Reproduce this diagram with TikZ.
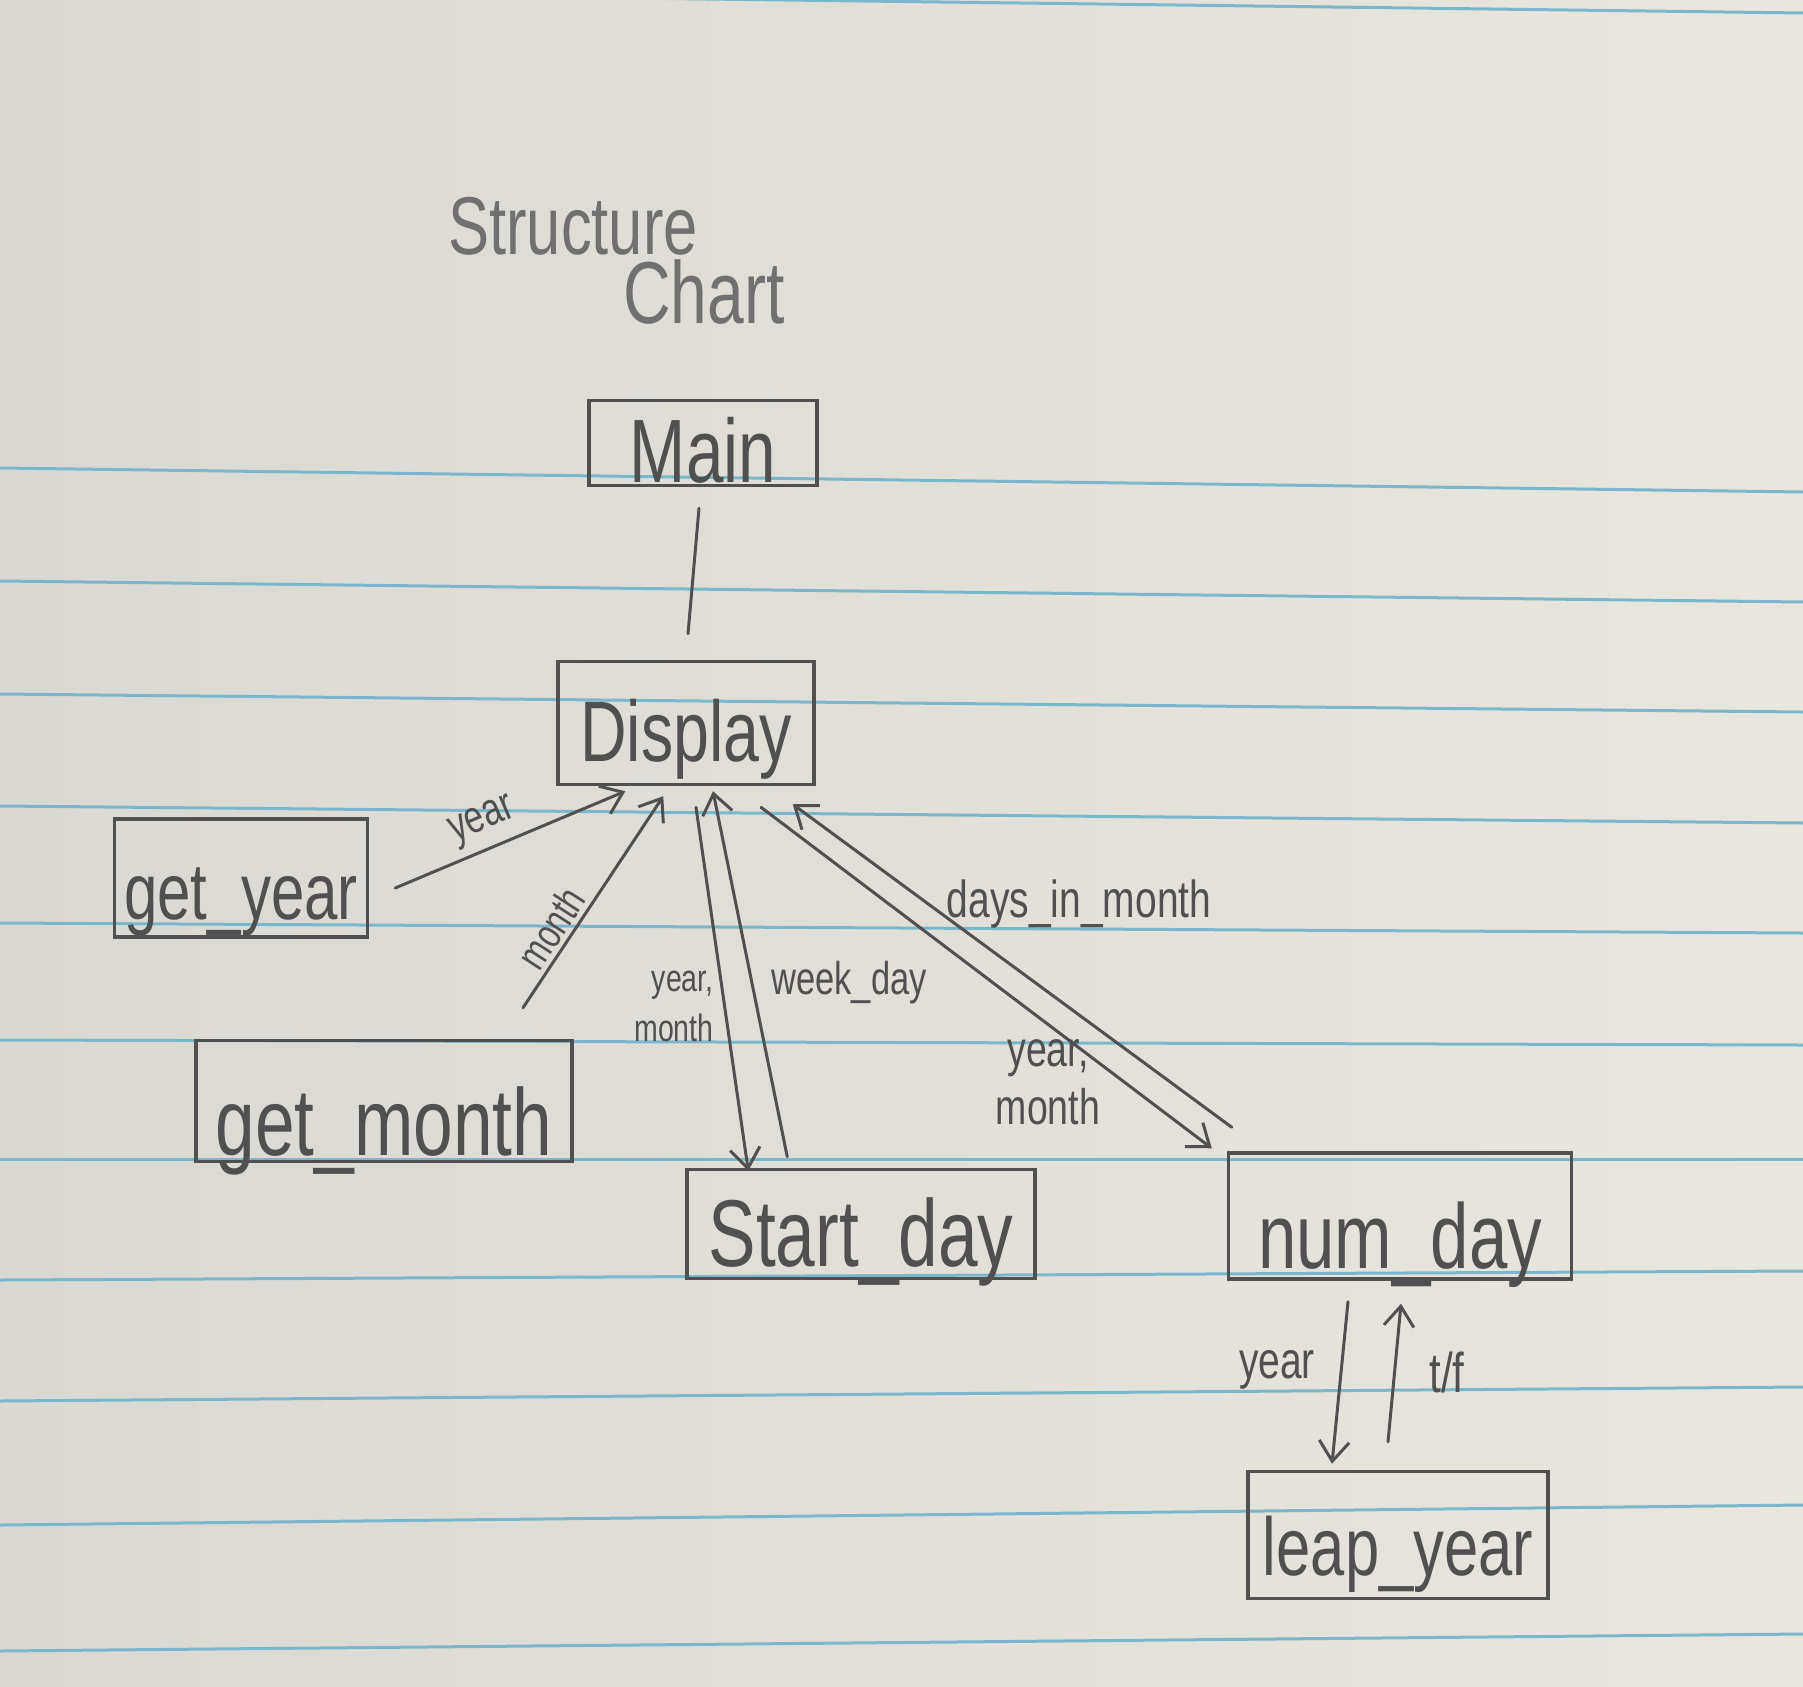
\documentclass[tikz,border=0pt]{standalone}
\usepackage{fontspec}
\setmainfont{Liberation Sans}
\newfontfamily\hand[FakeStretch=0.75]{Liberation Sans}
\usetikzlibrary{arrows.meta,calc}
\definecolor{paperL}{RGB}{218,216,210}
\definecolor{paperR}{RGB}{233,230,223}
\definecolor{ruleblue}{RGB}{120,184,200}
\definecolor{pencil}{RGB}{80,80,80}
\definecolor{pencilL}{RGB}{112,112,112}
\tikzset{
  box/.style={draw=pencil, line width=3.5pt, rectangle, inner sep=0pt, text=pencil,
    text depth=0pt},
  boxfont/.style={font=\hand\fontsize{#1}{#1}\selectfont},
  flow/.style={draw=pencil, line width=3pt, line cap=round,
    -{Straight Barb[length=20pt,width=30pt,line width=3pt]}},
  plain/.style={draw=pencil, line width=3pt, line cap=round},
  lab/.style={text=pencil, inner sep=0pt, align=center},
  labfont/.style 2 args={font=\hand\fontsize{#1}{#2}\selectfont},
  ruling/.style={draw=ruleblue, line width=3pt},
}
\begin{document}
\begin{tikzpicture}[x=1pt,y=-1pt]
% paper
\useasboundingbox (0,0) rectangle (1803,1686);
\shade[left color=paperL, right color=paperR] (0,0) rectangle (1803,1686);
% ruled lines
\foreach \a/\b in {-10/13,468/492,581/602,694/712,806/823,923/933,1040/1045,1159/1159,1280/1271,1401/1387,1525/1505,1651/1634}
  \draw[ruling] (0,\a) -- (1803,\b);

% title
\node[lab, text=pencilL, labfont={82}{86}] (t1) at (573,226) {Structure};
\node[lab, text=pencilL, labfont={88}{92}] (t2) at (704,292) {Chart};

% boxes
\node[box, boxfont=90, minimum width=228, minimum height=85, text height=79pt] (main) at (703,443) {Main};
\node[box, boxfont=86, minimum width=256, minimum height=123, text height=77pt] (disp) at (686,723) {Display};
\node[box, boxfont=80, minimum width=253, minimum height=118, text height=82pt] (gy) at (241,878) {get\_year};
\node[box, boxfont=95, minimum width=376, minimum height=121, text height=108pt] (gm) at (384,1101) {get\_month};
\node[box, boxfont=95, minimum width=348, minimum height=109, text height=84pt] (sd) at (861,1224) {Start\_day};
\node[box, boxfont=92, minimum width=343, minimum height=126, text height=104pt] (nd) at (1400,1216) {num\_day};
\node[box, boxfont=82, minimum width=300, minimum height=127, text height=80pt] (ly) at (1398,1535) {leap\_year};

% connectors
\draw[plain] ($(main.south)+(-4,21)$) -- ($(disp.north)+(2,-26)$);
\draw[flow] ($(gy.east)+(26,10)$) -- ($(disp.south west)+(69,5)$);
\draw[flow] ($(gm.north)+(139,-31)$) -- ($(disp.south west)+(107,10)$);
\draw[flow] ($(disp.south)+(10,21)$) -- ($(sd.north west)+(63,3)$);
\draw[flow] ($(sd.north west)+(102,-11)$) -- ($(disp.south)+(27,5)$);
\draw[flow] ($(disp.south)+(75,21)$) -- ($(nd.north west)+(-15,-3)$);
\draw[flow] ($(nd.north west)+(5,-24)$) -- ($(disp.south east)+(-23,18)$);
\draw[flow] ($(nd.south)+(-52,21)$) -- ($(ly.north)+(-66,-6)$);
\draw[flow] ($(ly.north)+(-10,-28)$) -- ($(nd.south)+(1,23)$);

% labels
\node[lab, labfont={46}{52}, rotate=23] (l1) at (483,822) {year};
\node[lab, labfont={42}{48}, rotate=57] (l2) at (551,928) {month};
\node[lab, labfont={38}{50}, align=right] (l3) at (674,1006) {year,\\month};
\node[lab, labfont={46}{52}] (l4) at (849,983) {week\_day};
\node[lab, labfont={50}{58}] (l5) at (1048,1082) {year,\\month};
\node[lab, labfont={52}{58}] (l6) at (1079,904) {days\_in\_month};
\node[lab, labfont={52}{58}] (l7) at (1277,1370) {year};
\node[lab, labfont={56}{60}] (l8) at (1447,1372) {t/f};
\end{tikzpicture}
\end{document}
